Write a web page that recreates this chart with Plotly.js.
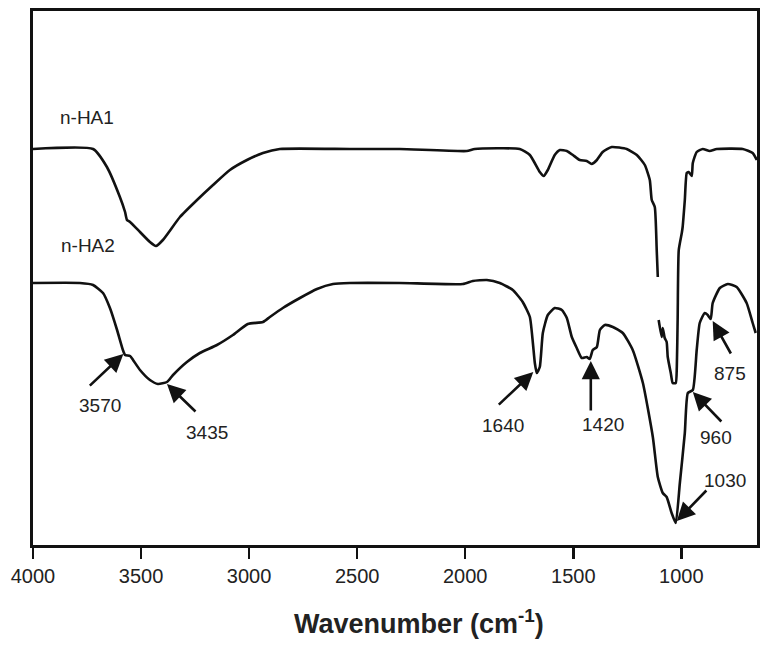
<!DOCTYPE html>
<html>
<head>
<meta charset="utf-8">
<script src="https://cdn.plot.ly/plotly-3.0.1.min.js"></script>
<style>
  html, body { margin: 0; padding: 0; background: #fff; }
  #chart { width: 769px; height: 645px; }
</style>
</head>
<body>
<div id="chart"></div>
<script>
// FTIR spectra (arbitrary transmittance units)
const ha1Wavenumber = [4000, 3722, 3658, 3598, 3574, 3565, 3551, 3505, 3459, 3431, 3399, 3320, 3241, 3167, 3089, 3010, 2936, 2858, 2534, 2303, 1993, 1956, 1748, 1701, 1655, 1637, 1618, 1586, 1562, 1530, 1502, 1470, 1438, 1415, 1391, 1364, 1322, 1253, 1206, 1169, 1146, 1137, 1123, 1114, 1109, 1107, 1105, 1091, 1086, 1077, 1068, 1063, 1049, 1040, 1026, 1021, 1017, 1012, 998, 994, 984, 975, 966, 952, 947, 929, 901, 869, 836, 716, 670, 651];
const ha1Signal = [396, 396, 378, 348, 333, 325, 323, 313, 303, 299, 305, 328, 345, 360, 375, 385, 392, 396, 396, 396, 394, 396, 396, 390, 373, 369, 375, 390, 395, 394, 390, 385, 384, 381, 385, 393, 398, 396, 390, 380, 365, 345, 338, 295, 268, null, 225, 208, 217, 207, 203, 188, 172, 162, 162, 178, 228, 295, 312, 318, 345, 372, 373, 369, 382, 393, 396, 394, 396, 396, 392, 385];

const ha2Wavenumber = [4000, 3783, 3722, 3676, 3644, 3611, 3584, 3574, 3551, 3537, 3505, 3459, 3422, 3380, 3352, 3288, 3228, 3149, 3075, 3006, 2936, 2904, 2844, 2765, 2686, 2612, 2534, 2303, 2011, 1965, 1900, 1840, 1780, 1734, 1701, 1687, 1678, 1669, 1655, 1641, 1618, 1586, 1553, 1530, 1507, 1484, 1461, 1438, 1424, 1410, 1391, 1377, 1354, 1317, 1271, 1225, 1178, 1132, 1109, 1086, 1068, 1045, 1026, 1007, 984, 970, 947, 929, 915, 892, 878, 864, 855, 822, 785, 744, 698, 670, 656];
const ha2Signal = [262, 262, 260, 252, 237, 215, 195, 190, 189, 185, 175, 165, 161, 163, 170, 183, 192, 200, 210, 221, 223, 228, 237, 247, 256, 261, 262, 262, 261, 264, 265, 262, 255, 243, 228, 202, 182, 172, 178, 212, 230, 237, 235, 227, 208, 197, 187, 188, 186, 195, 198, 215, 220, 218, 212, 195, 162, 108, 68, 52, 48, 32, 22, 62, 112, 152, 155, 195, 222, 232, 230, 226, 242, 257, 261, 258, 242, 222, 212];

// peak markers: label, arrow tip (wavenumber, signal), label position
const peakLabels = ["3570", "3435", "1640", "1420", "875", "960", "1030"];
const peakTipX   = [3582, 3380, 1685, 1419, 855, 947, 1021];
const peakTipY   = [191, 161, 173, 184, 224, 153, 24];
const peakTextX  = [3690, 3195, 1826, 1364, 776, 841, 800];
const peakTextY  = [140, 113, 120, 121, 172, 108, 65];
const peakTailDx = [-35, 30, -36, 0, 19, 30, 31];
const peakTailDy = [33, 29, 34, 51, 34, 31, -32];

const seriesNames = ["n-HA1", "n-HA2"];
const seriesNameX = [3750, 3746];
const seriesNameY = [428, 300];

const FONT = "Liberation Sans, Arial, Helvetica, sans-serif";
const INK = "#111";

const lineStyle = { color: INK, width: 2.6, shape: "spline", smoothing: 0.5 };

const traces = [
  { x: ha1Wavenumber, y: ha1Signal, type: "scatter", mode: "lines", line: lineStyle, connectgaps: false, hoverinfo: "skip" },
  { x: ha2Wavenumber, y: ha2Signal, type: "scatter", mode: "lines", line: lineStyle, hoverinfo: "skip" },
];

const annotations = [];
peakLabels.forEach((lab, i) => {
  annotations.push({
    x: peakTipX[i], y: peakTipY[i], xref: "x", yref: "y",
    text: "", showarrow: true, arrowhead: 2, arrowsize: 1.4, arrowwidth: 2.6, arrowcolor: INK,
    ax: peakTailDx[i], ay: peakTailDy[i],
  });
  annotations.push({
    x: peakTextX[i], y: peakTextY[i], xref: "x", yref: "y",
    text: lab, showarrow: false, font: { family: FONT, size: 19, color: "#222" },
  });
});
seriesNames.forEach((name, i) => {
  annotations.push({
    x: seriesNameX[i], y: seriesNameY[i], xref: "x", yref: "y",
    text: name, showarrow: false, font: { family: FONT, size: 19, color: "#222" },
  });
});

// axis title, placed like the original figure
annotations.push({
  xref: "paper", yref: "paper", x: 0.533, y: -0.144, yanchor: "middle",
  text: "<b>Wavenumber (cm<sup>-1</sup>)</b>", showarrow: false,
  font: { family: FONT, size: 27, color: "#222" },
});

const layout = {
  width: 769, height: 645,
  paper_bgcolor: "#fff", plot_bgcolor: "#fff",
  margin: { l: 33, r: 12, t: 11, b: 100 },
  showlegend: false,
  font: { family: FONT, color: "#222", size: 19 },
  xaxis: {
    range: [4000, 650],
    tickvals: [4000, 3500, 3000, 2500, 2000, 1500, 1000],
    ticks: "outside", ticklen: 11, tickwidth: 2.5, tickcolor: INK,
    showline: true, mirror: true, linewidth: 2.6, linecolor: INK,
    showgrid: false, zeroline: false,
    tickfont: { family: FONT, size: 20, color: "#222" },
  },
  yaxis: {
    range: [0, 534],
    showticklabels: false, ticks: "",
    showline: true, mirror: true, linewidth: 2.6, linecolor: INK,
    showgrid: false, zeroline: false,
  },
  annotations,
};

Plotly.newPlot("chart", traces, layout, { displayModeBar: false, staticPlot: true });
</script>
</body>
</html>
